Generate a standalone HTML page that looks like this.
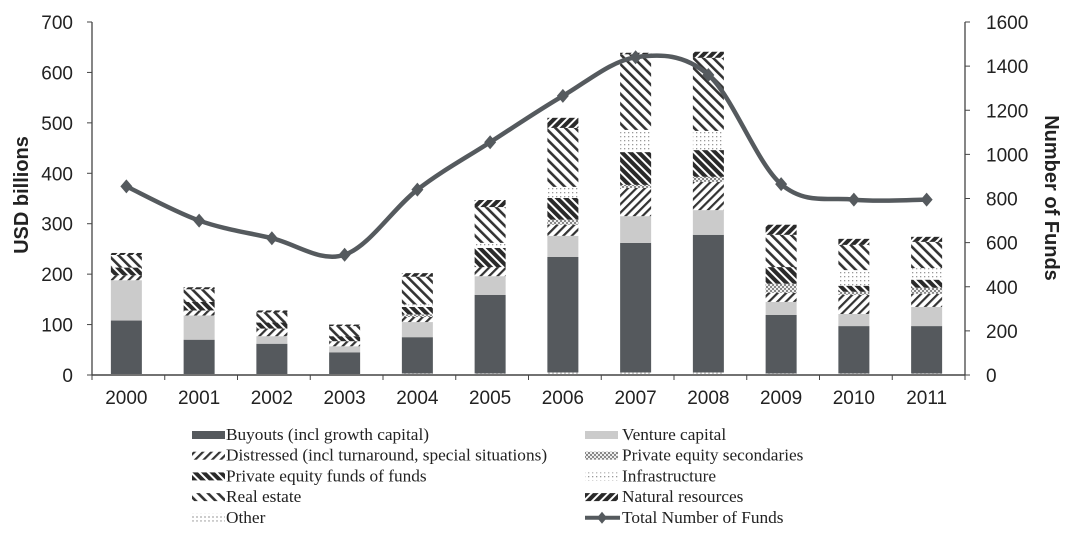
<!DOCTYPE html>
<html><head><meta charset="utf-8"><style>
body{margin:0;background:#fff;width:1066px;height:531px;overflow:hidden}
svg text{font-family:"Liberation Sans",sans-serif}
.lg{font-family:"Liberation Serif",serif;font-size:17.3px;fill:#222}
</style></head><body>
<svg id="c" width="1066" height="531">
<defs>
<pattern id="p-dist" width="6" height="6" patternUnits="userSpaceOnUse" patternTransform="rotate(45)"><rect width="6" height="6" fill="#fff"/><rect width="2.2" height="6" fill="#333"/></pattern>
<pattern id="p-sec" width="4" height="4" patternUnits="userSpaceOnUse"><rect width="4" height="4" fill="#eee"/><rect width="2" height="2" fill="#888"/><rect x="2" y="2" width="2" height="2" fill="#888"/></pattern>
<pattern id="p-fof" width="6" height="6" patternUnits="userSpaceOnUse" patternTransform="rotate(-45)"><rect width="6" height="6" fill="#fff"/><rect width="4" height="6" fill="#2a2a2a"/></pattern>
<pattern id="p-inf" width="4" height="4" patternUnits="userSpaceOnUse"><rect width="4" height="4" fill="#fff"/><rect width="1.3" height="1.3" fill="#999"/></pattern>
<pattern id="p-re" width="7" height="7" patternUnits="userSpaceOnUse" patternTransform="rotate(-45)"><rect width="7" height="7" fill="#fff"/><rect width="2.6" height="7" fill="#333"/></pattern>
<pattern id="p-nat" width="6" height="6" patternUnits="userSpaceOnUse" patternTransform="rotate(45)"><rect width="6" height="6" fill="#fff"/><rect width="4" height="6" fill="#2a2a2a"/></pattern>
<pattern id="p-oth" width="4" height="4" patternUnits="userSpaceOnUse"><rect width="4" height="4" fill="#fff"/><rect width="2" height="2" fill="#ccc"/></pattern>
</defs>
<g id="g"></g>
</svg>
<script>
const years=["2000","2001","2002","2003","2004","2005","2006","2007","2008","2009","2010","2011"];
const other=[2,2,2,2,3,3,5,5,5,3,3,3];
const buyouts=[106,68,60,43,72,156,229,257,273,116,94,94];
const venture=[80,48,15,12,30,37,42,53,49,26,24,38];
const distressed=[10,10,15,10,10,18,22,56,56,18,38,26];
const secondaries=[0,0,0,0,5,0,10,6,10,18,6,12];
const fof=[15,17,12,10,15,38,43,65,53,33,12,16];
const infra=[0,0,0,0,5,10,22,44,38,0,31,23];
const realestate=[25,25,20,20,55,71,117,150,145,64,50,52];
const natural=[4,4,4,3,7,14,20,3,12,20,12,10];
const funds=[855,700,620,545,840,1055,1265,1440,1360,865,795,795];
const leftTicks=[0,100,200,300,400,500,600,700];
const rightTicks=[0,200,400,600,800,1000,1200,1400,1600];
const series=[["other",other,"url(#p-oth)"],["buyouts",buyouts,"#55595d"],["venture",venture,"#cbcbcb"],["distressed",distressed,"url(#p-dist)"],["secondaries",secondaries,"url(#p-sec)"],["fof",fof,"url(#p-fof)"],["infra",infra,"url(#p-inf)"],["realestate",realestate,"url(#p-re)"],["natural",natural,"url(#p-nat)"]];
const X0=92,X1=965,Y0=375,YT=22,bw=31;
const step=(X1-X0)/years.length;
const xc=i=>X0+step*(i+0.5)-2;
const yl=v=>Y0-(Y0-YT)*v/700;
const yr=v=>Y0-(Y0-YT)*v/1600;
const g=document.getElementById('g');
const NS="http://www.w3.org/2000/svg";
function mk(t,a,txt){const e=document.createElementNS(NS,t);for(const k in a)e.setAttribute(k,a[k]);if(txt!=null)e.textContent=txt;g.appendChild(e);return e;}
years.forEach((y,i)=>{let acc=0;series.forEach(s=>{const v=s[1][i];if(v<=0)return;
const r=mk('rect',{x:xc(i)-bw/2,y:yl(acc+v),width:bw,height:yl(acc)-yl(acc+v),fill:s[2]});


acc+=v;});});
let a=mk('line',{x1:X0,y1:Y0,x2:X1,y2:Y0,stroke:'#444','stroke-width':1.5});

for(let i=0;i<=years.length;i++){mk('line',{x1:X0+step*i,y1:Y0,x2:X0+step*i,y2:Y0+5,stroke:'#444'});}
a=mk('line',{x1:X0,y1:YT,x2:X0,y2:Y0,stroke:'#444','stroke-width':1.3});

a=mk('line',{x1:X1,y1:YT,x2:X1,y2:Y0,stroke:'#444','stroke-width':1.3});

leftTicks.forEach(v=>{mk('line',{x1:X0-5,y1:yl(v),x2:X0,y2:yl(v),stroke:'#444'});
const t=mk('text',{x:73,y:yl(v)+7,'text-anchor':'end','font-size':19,fill:'#222'},v);
});
rightTicks.forEach(v=>{mk('line',{x1:X1,y1:yr(v),x2:X1+5,y2:yr(v),stroke:'#444'});
const t=mk('text',{x:986,y:yr(v)+7,'font-size':19,fill:'#222'},v);
});
years.forEach((y,i)=>{const t=mk('text',{x:xc(i),y:404,'text-anchor':'middle','font-size':19,fill:'#222'},y);
});
let t=mk('text',{x:0,y:0,transform:'translate(28,195) rotate(-90)','text-anchor':'middle','font-size':20,'font-weight':'bold',fill:'#222'},'USD billions');

t=mk('text',{x:0,y:0,transform:'translate(1045,198) rotate(90)','text-anchor':'middle','font-size':20,'font-weight':'bold',fill:'#222'},'Number of Funds');

const pts=funds.map((v,i)=>[xc(i),yr(v)]);
let d='M'+pts[0][0]+','+pts[0][1];
for(let i=0;i<pts.length-1;i++){const p0=pts[Math.max(0,i-1)],p1=pts[i],p2=pts[i+1],p3=pts[Math.min(pts.length-1,i+2)];
d+=' C'+(p1[0]+(p2[0]-p0[0])/6)+','+(p1[1]+(p2[1]-p0[1])/6)+' '+(p2[0]-(p3[0]-p1[0])/6)+','+(p2[1]-(p3[1]-p1[1])/6)+' '+p2[0]+','+p2[1];}
const ln=mk('path',{d:d,fill:'none',stroke:'#555a5e','stroke-width':4.5});

pts.forEach((p,i)=>{const m=mk('path',{d:`M${p[0]},${p[1]-7}L${p[0]+6},${p[1]}L${p[0]},${p[1]+7}L${p[0]-6},${p[1]}Z`,fill:'#555a5e'});
});
const leg=[["Buyouts (incl growth capital)","#55595d",0,0],["Venture capital","#cbcbcb",1,0],["Distressed (incl turnaround, special situations)","url(#p-dist)",0,1],["Private equity secondaries","url(#p-sec)",1,1],["Private equity funds of funds","url(#p-fof)",0,2],["Infrastructure","url(#p-inf)",1,2],["Real estate","url(#p-re)",0,3],["Natural resources","url(#p-nat)",1,3],["Other","url(#p-oth)",0,4],["Total Number of Funds",null,1,4]];
leg.forEach(l=>{const x=l[2]?585:192,y=435+l[3]*20.7;
if(l[1]){const r=mk('rect',{x:x,y:y-4,width:33,height:8,fill:l[1]});}
else{mk('line',{x1:x,y1:y,x2:x+35,y2:y,stroke:'#555a5e','stroke-width':4});mk('path',{d:`M${x+17},${y-6}L${x+22},${y}L${x+17},${y+6}L${x+12},${y}Z`,fill:'#555a5e'});}
const tt=mk('text',{x:x+(l[2]?37:34),y:y+5,class:'lg'},l[0]);
});
</script>
</body></html>
